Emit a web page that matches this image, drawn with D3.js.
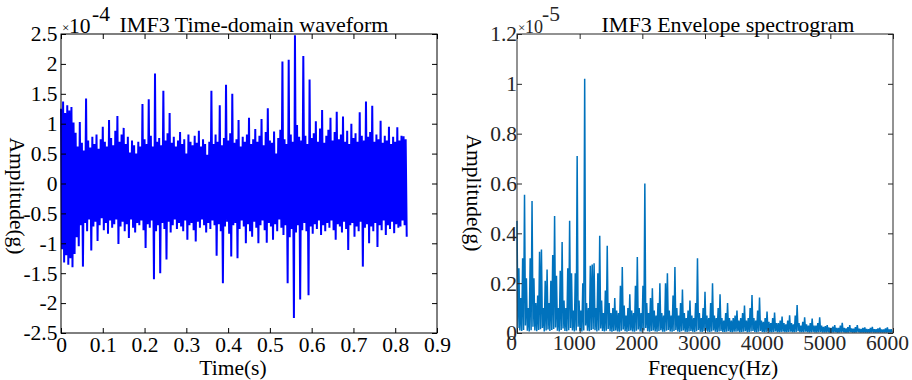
<!DOCTYPE html>
<html>
<head>
<meta charset="utf-8">
<script src="https://cdn.jsdelivr.net/npm/d3@7"></script>
<style>
  html, body { margin: 0; padding: 0; background: #fff; }
  svg { display: block; }
</style>
</head>
<body>
<svg id="chart" width="912" height="380"></svg>
<script>
// IMF3 waveform: max / min of each 5 ms step, in units of 1e-4 g
const timeStep = 0.005;
const waveHi = [
  1.25,1.37,1.18,1.31,1.22,1.28,1.02,0.85,0.62,1.03,
  0.68,0.55,1.42,0.72,0.6,0.78,0.66,0.82,0.58,0.74,
  0.95,0.7,0.62,1.06,0.76,0.64,0.88,1.13,0.7,0.82,
  0.93,0.66,0.78,0.52,0.72,0.64,0.5,0.7,0.62,1.33,
  0.74,0.66,1.41,0.8,0.62,1.84,0.7,0.76,0.64,1.55,
  0.72,0.84,1.18,0.68,0.78,0.62,0.72,0.86,0.66,0.74,
  0.5,0.82,0.7,0.64,0.8,0.68,0.88,0.62,0.74,0.66,
  0.48,0.7,1.55,0.66,0.82,0.7,1.31,0.64,0.76,1.65,
  0.72,0.84,1.5,0.68,0.74,1.06,0.62,0.78,0.7,0.82,
  1.1,0.66,0.74,0.91,0.7,0.8,1.08,0.64,0.86,1.26,
  0.72,0.68,0.87,0.5,0.76,0.9,2.04,0.74,0.66,2.07,
  0.82,0.7,2.48,0.98,0.78,0.72,2.13,0.8,0.66,1.74,
  0.76,0.84,1.04,0.7,0.92,1.23,0.68,0.8,0.9,1.1,
  0.72,0.86,1.2,0.74,0.82,1.12,0.7,0.88,0.66,1.0,
  0.76,0.84,0.7,1.19,0.8,0.72,1.37,0.78,0.86,1.3,
  0.7,0.82,0.74,1.05,0.68,0.8,0.72,0.95,0.66,0.78,
  0.7,0.94,0.72,0.8,0.79,0.74
];
const waveLo = [
  -1.1,-1.32,-1.2,-1.36,-1.25,-1.4,-1.18,-0.9,-1.05,-0.7,
  -1.39,-0.66,-0.8,-0.6,-1.12,-0.72,-0.64,-0.96,-0.7,-0.58,
  -0.78,-0.66,-0.84,-0.62,-0.74,-0.68,-0.6,-1.01,-0.72,-0.64,
  -0.8,-0.68,-0.91,-0.6,-0.74,-0.82,-0.66,-0.7,-0.62,-0.78,
  -1.08,-0.68,-0.74,-0.62,-1.6,-0.8,-0.7,-1.5,-0.66,-0.76,
  -1.27,-0.64,-0.82,-0.7,-0.6,-0.76,-0.66,-0.72,-0.8,-0.62,
  -0.94,-0.7,-0.66,-0.78,-0.97,-0.64,-0.74,-0.6,-0.7,-0.82,
  -0.66,-0.76,-0.62,-0.7,-1.21,-0.68,-0.8,-1.67,-0.72,-0.64,
  -0.84,-1.22,-0.7,-0.66,-1.25,-0.76,-0.62,-0.72,-1.0,-0.68,
  -0.8,-0.89,-0.64,-0.74,-1.0,-0.7,-0.62,-0.78,-0.99,-0.66,
  -0.72,-0.94,-0.68,-0.8,-0.6,-0.74,-0.86,-0.7,-1.67,-0.9,
  -0.76,-2.25,-0.82,-0.7,-1.94,-0.78,-0.66,-0.8,-1.87,-0.72,
  -0.84,-0.68,-0.76,-0.62,-0.86,-0.7,-0.8,-0.66,-0.74,-0.62,
  -0.78,-0.94,-0.68,-0.72,-0.82,-0.64,-0.76,-1.11,-0.7,-0.66,
  -0.89,-0.72,-0.8,-0.64,-1.39,-0.74,-0.68,-1.0,-0.72,-0.8,
  -0.66,-1.06,-0.7,-0.78,-0.62,-0.86,-0.7,-0.76,-0.64,-0.83,
  -0.68,-0.74,-0.72,-0.62,-0.7,-0.89
];

// Envelope spectrum: max / min of each 30 Hz step, in units of 1e-5 g
const freqStep = 30;
const specHi = [
  0.45,0.26,0.14,0.3,0.555,0.22,0.1,0.3,0.53,0.22,
  0.12,0.15,0.326,0.335,0.1,0.21,0.255,0.12,0.21,0.313,
  0.47,0.23,0.1,0.25,0.365,0.13,0.1,0.26,0.45,0.24,
  0.09,0.24,0.71,0.13,0.09,0.2,1.02,0.12,0.1,0.27,
  0.275,0.28,0.1,0.24,0.39,0.13,0.08,0.17,0.35,0.12,
  0.08,0.1,0.14,0.09,0.08,0.19,0.265,0.11,0.07,0.1,
  0.155,0.09,0.08,0.19,0.305,0.1,0.08,0.19,0.6,0.12,
  0.08,0.14,0.18,0.09,0.07,0.12,0.2,0.08,0.07,0.2,
  0.24,0.09,0.07,0.15,0.265,0.1,0.07,0.12,0.175,0.08,
  0.06,0.09,0.13,0.07,0.06,0.12,0.3,0.08,0.06,0.1,
  0.165,0.07,0.06,0.12,0.2,0.07,0.06,0.1,0.155,0.06,
  0.05,0.08,0.12,0.06,0.05,0.06,0.07,0.09,0.05,0.06,
  0.08,0.11,0.05,0.06,0.1,0.152,0.06,0.05,0.09,0.142,
  0.05,0.045,0.06,0.086,0.045,0.04,0.06,0.082,0.04,0.04,
  0.05,0.066,0.04,0.035,0.05,0.071,0.04,0.035,0.07,0.112,
  0.04,0.03,0.045,0.063,0.035,0.03,0.04,0.058,0.03,0.03,
  0.04,0.063,0.03,0.025,0.028,0.032,0.022,0.02,0.026,0.032,
  0.02,0.02,0.03,0.041,0.02,0.018,0.024,0.032,0.018,0.017,
  0.024,0.032,0.017,0.016,0.02,0.023,0.016,0.015,0.02,0.025,
  0.015,0.015,0.018,0.021,0.014,0.014,0.018,0.023,0.014,0.015
];
const specLo = [
  0.02,0.01,0.008,0.012,0.03,0.009,0.006,0.011,0.025,0.01,
  0.007,0.012,0.015,0.02,0.006,0.01,0.014,0.008,0.012,0.016,
  0.022,0.009,0.006,0.012,0.018,0.008,0.007,0.011,0.02,0.01,
  0.006,0.01,0.025,0.008,0.006,0.01,0.03,0.009,0.007,0.012,
  0.015,0.011,0.006,0.01,0.018,0.008,0.006,0.009,0.016,0.007,
  0.005,0.008,0.01,0.006,0.005,0.009,0.014,0.007,0.005,0.008,
  0.01,0.006,0.005,0.009,0.014,0.006,0.005,0.01,0.02,0.007,
  0.005,0.008,0.01,0.006,0.005,0.008,0.011,0.005,0.005,0.009,
  0.012,0.006,0.005,0.008,0.012,0.006,0.004,0.007,0.01,0.005,
  0.004,0.006,0.008,0.005,0.004,0.007,0.012,0.005,0.004,0.007,
  0.009,0.005,0.004,0.006,0.01,0.005,0.004,0.006,0.008,0.004,
  0.004,0.005,0.007,0.004,0.003,0.005,0.005,0.006,0.003,0.004,
  0.005,0.007,0.003,0.004,0.006,0.008,0.004,0.003,0.005,0.008,
  0.004,0.003,0.004,0.006,0.003,0.003,0.004,0.006,0.003,0.003,
  0.004,0.005,0.003,0.003,0.004,0.005,0.003,0.003,0.004,0.007,
  0.003,0.003,0.003,0.005,0.003,0.002,0.003,0.004,0.002,0.002,
  0.003,0.004,0.002,0.002,0.002,0.003,0.002,0.002,0.002,0.003,
  0.002,0.002,0.002,0.003,0.002,0.002,0.002,0.003,0.002,0.002,
  0.002,0.003,0.002,0.002,0.002,0.002,0.002,0.002,0.002,0.002,
  0.002,0.002,0.002,0.002,0.002,0.002,0.002,0.002,0.002,0.002
];

// Tick values
const timeTicks = [0, 0.1, 0.2, 0.3, 0.4, 0.5, 0.6, 0.7, 0.8, 0.9];
const ampTicks = [-2.5, -2, -1.5, -1, -0.5, 0, 0.5, 1, 1.5, 2, 2.5];
const freqTicks = [0, 1000, 2000, 3000, 4000, 5000, 6000];
const specTicks = [0, 0.2, 0.4, 0.6, 0.8, 1, 1.2];

const serif = "'Liberation Serif','Times New Roman',Times,serif";
const svg = d3.select("#chart");

svg.append("defs").append("clipPath").attr("id", "leftClip")
  .append("rect").attr("x", 0).attr("y", 0).attr("width", 455).attr("height", 380);

function drawPanel(cfg) {
  const g = svg.append("g");
  if (cfg.clip) g.attr("clip-path", `url(#${cfg.clip})`);
  const x = cfg.x, y = cfg.y;
  const [x0, x1] = x.range();
  const [yb, yt] = y.range();

  // signal trace: alternate max / min inside each step
  const pts = cfg.hi.flatMap((h, i) => [
    [i * cfg.step, h],
    [i * cfg.step + cfg.step / 2, cfg.lo[i]]
  ]);
  g.append("path")
    .datum(pts)
    .attr("fill", "none")
    .attr("stroke", cfg.color)
    .attr("stroke-width", cfg.lineWidth)
    .attr("stroke-linejoin", "miter")
    .attr("stroke-miterlimit", 2)
    .attr("d", d3.line().x(d => x(d[0])).y(d => y(d[1])));

  const fmt = d => String(d);
  const axes = [
    { a: d3.axisBottom(x).tickValues(cfg.xTicks).tickFormat(fmt).tickPadding(cfg.xPad), t: `translate(0,${yb})`, xl: true },
    { a: d3.axisTop(x).tickValues(cfg.xTicks).tickFormat(""), t: `translate(0,${yt})` },
    { a: d3.axisLeft(y).tickValues(cfg.yTicks).tickFormat(fmt).tickPadding(cfg.yPad), t: `translate(${x0},0)` },
    { a: d3.axisRight(y).tickValues(cfg.yTicks).tickFormat(""), t: `translate(${x1},0)` }
  ];
  axes.forEach(ax => {
    const ag = g.append("g").attr("transform", ax.t)
      .call(ax.a.tickSizeInner(-5).tickSizeOuter(0));
    ag.select(".domain").remove();
    ag.attr("font-family", serif).attr("font-size", 21.5).style("color", cfg.axisColor);
    ag.selectAll("line").attr("stroke", cfg.axisColor);
    if (ax.xl && cfg.xLabelShift) ag.selectAll("text").attr("dx", cfg.xLabelShift);
  });

  g.append("rect")
    .attr("x", x0).attr("y", yt).attr("width", x1 - x0).attr("height", yb - yt)
    .attr("fill", "none").attr("stroke", cfg.axisColor).attr("stroke-width", 1);

  // exponent multiplier above the y axis
  const ex = g.append("g").attr("font-family", serif).attr("fill", cfg.axisColor);
  ex.append("text").attr("x", cfg.exp.x).attr("y", 32).attr("font-size", 13).text("×");
  ex.append("text").attr("x", cfg.exp.x + 7).attr("y", 33).attr("font-size", cfg.exp.size).text("10");
  ex.append("text").attr("x", cfg.exp.px).attr("y", 21).attr("font-size", 21.5).text(cfg.exp.power);

  g.append("text")
    .attr("x", cfg.title.x).attr("y", 32)
    .attr("text-anchor", "middle")
    .attr("font-family", serif).attr("font-size", 22).attr("fill", "#000")
    .text(cfg.title.text);

  g.append("text")
    .attr("x", cfg.xLabel.x).attr("y", 375)
    .attr("text-anchor", "middle")
    .attr("font-family", serif).attr("font-size", 21.5).attr("fill", "#000")
    .text(cfg.xLabel.text);

  g.append("text")
    .attr("transform", `translate(${cfg.yLabel.x},${cfg.yLabel.y}) rotate(90)`)
    .attr("text-anchor", "middle")
    .attr("dominant-baseline", "central")
    .attr("font-family", serif).attr("font-size", 21.5).attr("fill", "#000")
    .text("Amplitude(g)");
}

drawPanel({
  clip: "leftClip",
  x: d3.scaleLinear().domain([0, 0.9]).range([61, 437]),
  y: d3.scaleLinear().domain([-2.5, 2.5]).range([333, 34]),
  hi: waveHi, lo: waveLo, step: timeStep, lineWidth: 2,
  color: "#0000ff", axisColor: "#000",
  xTicks: timeTicks, yTicks: ampTicks, xPad: 4, yPad: 3.5,
  exp: { x: 62, size: 21.5, px: 92, power: "-4" },
  title: { x: 254, text: "IMF3 Time-domain waveform" },
  xLabel: { x: 233, text: "Time(s)" },
  yLabel: { x: 17, y: 196 }
});

drawPanel({
  x: d3.scaleLinear().domain([0, 6000]).range([517, 893]),
  y: d3.scaleLinear().domain([0, 1.2]).range([333, 34]),
  hi: specHi, lo: specLo, step: freqStep, lineWidth: 1.5,
  color: "#0072bd", axisColor: "#262626",
  xTicks: freqTicks, yTicks: specTicks, xPad: 2, yPad: 0, xLabelShift: -6,
  exp: { x: 518, size: 18, px: 542, power: "-5" },
  title: { x: 728, text: "IMF3 Envelope spectrogram" },
  xLabel: { x: 713, text: "Frequency(Hz)" },
  yLabel: { x: 474, y: 193 }
});
</script>
</body>
</html>
